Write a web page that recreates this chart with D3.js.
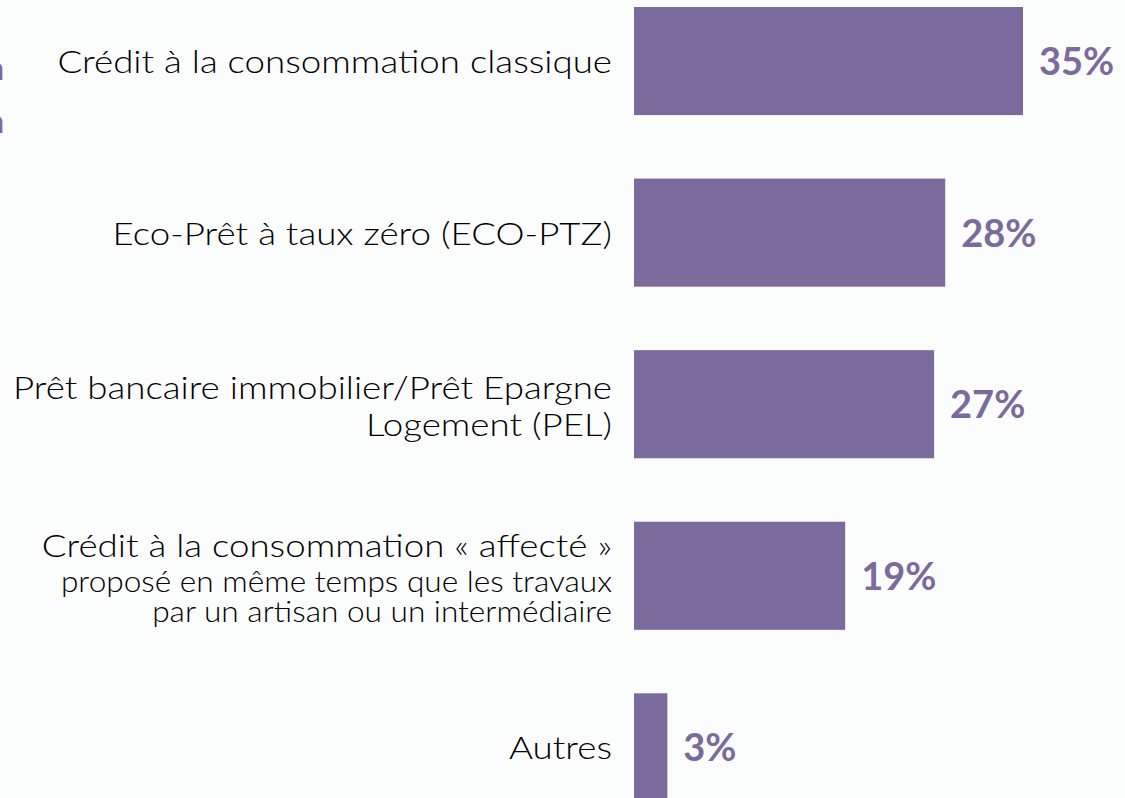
<!DOCTYPE html>
<html>
<head>
<meta charset="utf-8">
<script src="https://cdn.jsdelivr.net/npm/d3@7"></script>
<style>
  html, body { margin: 0; padding: 0; background: #fbfcfc; overflow: hidden; }
  svg { display: block; }
</style>
</head>
<body>
<svg id="chart" width="1125" height="798"></svg>
<script>
var categories = [
  'Crédit à la consommation classique',
  'Eco-Prêt à taux zéro (ECO-PTZ)',
  'Prêt bancaire immobilier/Prêt Epargne Logement (PEL)',
  'Crédit à la consommation « affecté »',
  'Autres'
];
var values = [ 35, 28, 27, 19, 3 ];
var valueLabels = [ '35%', '28%', '27%', '19%', '3%' ];
// label lines: [ text, small? ]
var labelLines = [
  [ [ 'Crédit à la consommation classique', false ] ],
  [ [ 'Eco-Prêt à taux zéro (ECO-PTZ)', false ] ],
  [ [ 'Prêt bancaire immobilier/Prêt Epargne', false ], [ 'Logement (PEL)', false ] ],
  [ [ 'Crédit à la consommation « affecté »', false ],
    [ 'proposé en même temps que les travaux', true ],
    [ 'par un artisan ou un intermédiaire', true ] ],
  [ [ 'Autres', false ] ]
];

var svg = d3.select( '#chart' ),
  purple = '#7b6a9c',
  font = 'Lato, "Open Sans", sans-serif',
  x0 = 634;

var data = categories.map( ( c, i ) => ( { name: c, value: values[ i ], label: valueLabels[ i ], lines: labelLines[ i ] } ) );

var x = d3.scaleLinear()
  .domain( [ 0, 35 ] )
  .range( [ x0, x0 + 389 ] );

var y = d3.scaleBand()
  .domain( categories )
  .range( [ 7, 801.4 ] )
  .paddingInner( 0.37 )
  .paddingOuter( 0 );

// cut-off letters on the left edge
[ 80, 133 ].forEach( yy => {
  svg.append( 'text' )
    .attr( 'x', 4 )
    .attr( 'y', yy )
    .attr( 'text-anchor', 'end' )
    .style( 'font-family', font )
    .style( 'font-weight', 700 )
    .style( 'font-size', '32px' )
    .style( 'fill', purple )
    .text( 'n' );
} );

svg.selectAll( '.bar' )
  .data( data )
  .enter().append( 'rect' )
    .attr( 'class', 'bar' )
    .attr( 'x', x( 0 ) )
    .attr( 'y', d => y( d.name ) )
    .attr( 'width', d => x( d.value ) - x( 0 ) )
    .attr( 'height', y.bandwidth() )
    .style( 'fill', purple );

svg.selectAll( '.value' )
  .data( data )
  .enter().append( 'text' )
    .attr( 'class', 'value' )
    .attr( 'x', d => x( d.value ) + 16 )
    .attr( 'y', d => y( d.name ) + y.bandwidth() / 2 + 14 )
    .style( 'font-family', font )
    .style( 'font-weight', 700 )
    .style( 'font-size', '38px' )
    .style( 'fill', purple )
    .text( d => d.label );

// category labels, right aligned against the bars
// the original font (Century Gothic) is wider, so stretch Lato a bit
data.forEach( d => {
  var mid = y( d.name ) + y.bandwidth() / 2;
  var n = d.lines.length;
  var base;
  if ( n === 1 ) base = [ mid + 12 ];
  else if ( n === 2 ) base = [ mid - 5.5, mid + 31.5 ];
  else base = [ mid - 19, mid + 16, mid + 46 ];

  d.lines.forEach( ( l, j ) => {
    var t = svg.append( 'text' )
      .attr( 'x', 612 )
      .attr( 'y', base[ j ] )
      .attr( 'text-anchor', 'end' )
      .style( 'font-family', font )
      .style( 'font-weight', 300 )
      .style( 'font-size', l[ 1 ] ? '29px' : '31.5px' )
      .style( 'fill', '#000' )
      .text( l[ 0 ] );
    var len = t.node().getComputedTextLength();
    t.attr( 'textLength', len * ( l[ 1 ] ? 1.09 : 1.165 ) )
      .attr( 'lengthAdjust', 'spacingAndGlyphs' );
  } );
} );
</script>
</body>
</html>
